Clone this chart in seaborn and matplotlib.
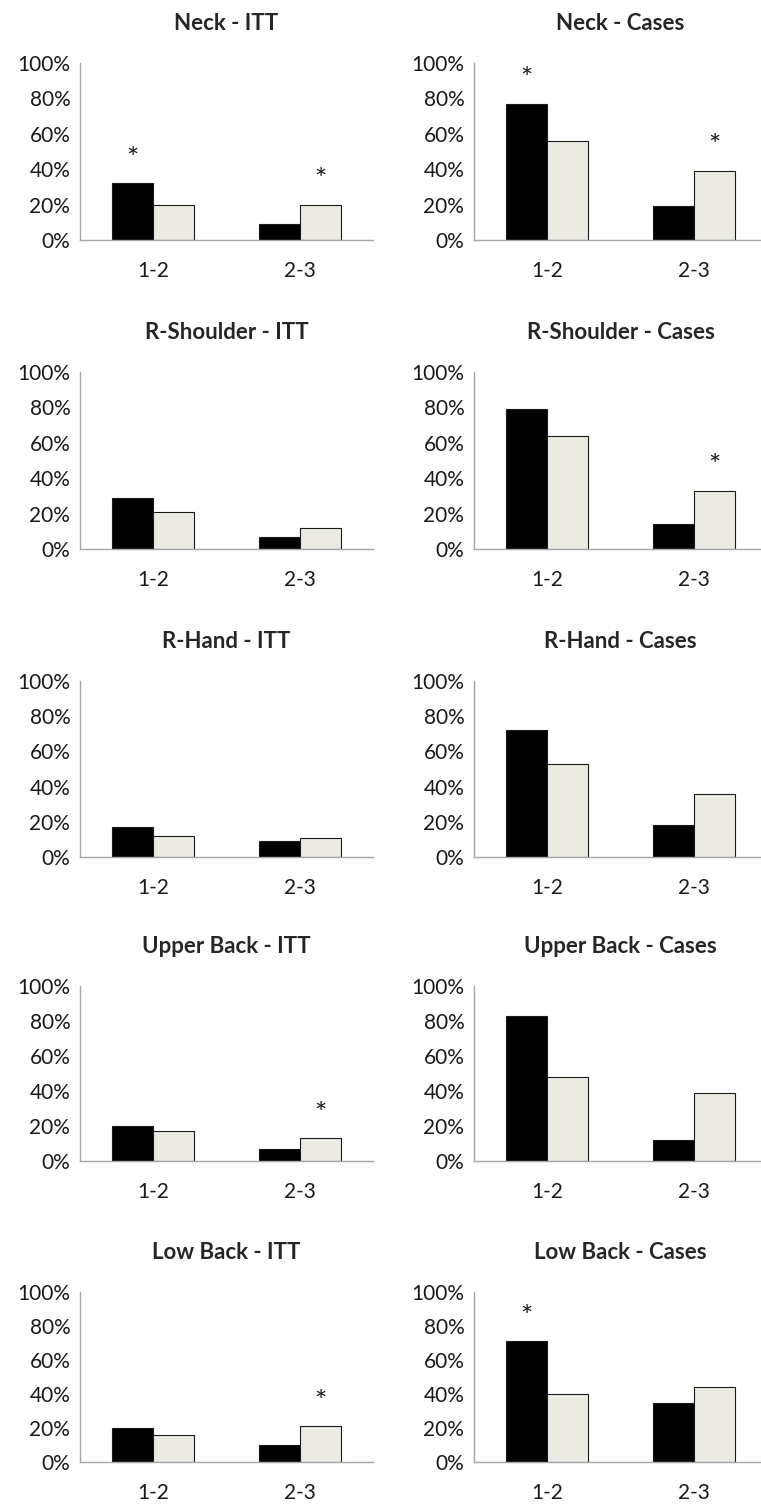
import matplotlib
matplotlib.use("Agg")
import matplotlib.pyplot as plt
import numpy as np
import pandas as pd
import seaborn as sns
from matplotlib.ticker import PercentFormatter

# DATA
REGIONS = ["Neck", "R-Shoulder", "R-Hand", "Upper Back", "Low Back"]
CATS = ["1-2", "2-3"]
GROUPS = ["A", "B"]

# ITT panels: [black 1-2, black 2-3], [beige 1-2, beige 2-3]
ITT_A = [[32, 9], [29, 7], [17, 9], [20, 7], [20, 10]]
ITT_B = [[20, 20], [21, 12], [12, 11], [17, 13], [16, 21]]
# Cases panels
CAS_A = [[77, 19], [79, 14], [72, 18], [83, 12], [71, 35]]
CAS_B = [[56, 39], [64, 33], [53, 36], [48, 39], [40, 44]]

# significant bars (category index, group index)
SIG_ITT = [[(0, 0), (1, 1)], [], [], [(1, 1)], [(1, 1)]]
SIG_CAS = [[(0, 0), (1, 1)], [(1, 1)], [], [], [(0, 0)]]

COLORS = ["#000000", "#EEECE1"]

sns.set_theme(style="white")
plt.rcParams['font.family'] = ['Lato', 'DejaVu Sans']

fig = plt.figure(figsize=(7.61, 15.04), dpi=100)


def make_df(a, b):
    rows = []
    for g, vals in zip(GROUPS, [a, b]):
        for c, v in zip(CATS, vals):
            rows.append({"period": c, "group": g, "value": v})
    return pd.DataFrame(rows)


def draw_panel(ax, df, title, sig):
    sns.barplot(data=df, x="period", y="value", hue="group", order=CATS,
                hue_order=GROUPS, palette=COLORS, width=0.56, gap=0,
                edgecolor="#1a1a1a", linewidth=0.8, legend=False, ax=ax)
    ax.set_ylim(0, 100)
    ax.set_xlim(-0.5, 1.5)
    ax.set_yticks(np.arange(0, 101, 20))
    ax.yaxis.set_major_formatter(PercentFormatter(decimals=0))
    ax.set_xlabel("")
    ax.set_ylabel("")
    ax.set_title(title, fontsize=16, fontweight="bold", pad=24)
    for s in ["top", "right"]:
        ax.spines[s].set_visible(False)
    for s in ["left", "bottom"]:
        ax.spines[s].set_color("#a6a6a6")
        ax.spines[s].set_linewidth(1.0)
    ax.tick_params(axis="y", labelsize=15, length=0, pad=7, colors="#1a1a1a")
    ax.tick_params(axis="x", labelsize=15, length=0, pad=15, colors="#1a1a1a")
    # asterisks above significant bars
    for ci, gi in sig:
        p = ax.containers[gi][ci]
        ax.text(p.get_x() + p.get_width() / 2, p.get_height() + 6, "*",
                ha="center", va="bottom", fontsize=21, color="#1a1a1a")


W, H = 761, 1504
TOPS = [63, 372, 681, 986, 1292]
BOTS = [240, 549, 857, 1161, 1462]
for i, reg in enumerate(REGIONS):
    h = BOTS[i] - TOPS[i]
    bottom = 1 - BOTS[i] / H
    ax1 = fig.add_axes([80 / W, bottom, 293 / W, h / H])
    draw_panel(ax1, make_df(ITT_A[i], ITT_B[i]), f"{reg} - ITT", SIG_ITT[i])
    ax2 = fig.add_axes([474 / W, bottom, 293 / W, h / H])
    draw_panel(ax2, make_df(CAS_A[i], CAS_B[i]), f"{reg} - Cases", SIG_CAS[i])

fig.savefig("out.png", dpi=100)
